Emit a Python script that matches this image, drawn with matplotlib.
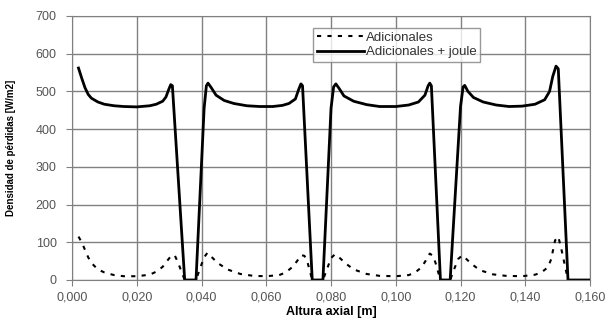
import matplotlib
matplotlib.use("Agg")
from matplotlib import pyplot as plt

# solid curve: Adicionales + joule
x_joule = [0.002, 0.003, 0.004, 0.005, 0.006, 0.008, 0.010, 0.013, 0.016, 0.020,
           0.024, 0.026, 0.028, 0.029, 0.030, 0.0305, 0.031, 0.0348, 0.0383,
           0.0408, 0.0415, 0.0420, 0.0430, 0.0445, 0.047, 0.050, 0.054, 0.058,
           0.062, 0.065, 0.067, 0.069, 0.070, 0.0707, 0.0712, 0.0742, 0.0775,
           0.0800, 0.0808, 0.0815, 0.0825, 0.084, 0.087, 0.091, 0.095, 0.100,
           0.104, 0.107, 0.109, 0.1100, 0.1105, 0.1110, 0.1138, 0.1168,
           0.1200, 0.1208, 0.1213, 0.1223, 0.124, 0.127, 0.131, 0.135, 0.139,
           0.143, 0.146, 0.1475, 0.1485, 0.1495, 0.1502, 0.1532, 0.160]
y_joule = [562, 535, 510, 492, 482, 472, 466, 462, 460, 459,
           462, 466, 474, 485, 508, 518, 515, 0, 0,
           455, 515, 522, 510, 490, 476, 468, 462, 460,
           460, 463, 468, 480, 505, 520, 515, 0, 0,
           455, 512, 520, 508, 488, 474, 465, 460, 460,
           464, 472, 490, 515, 522, 515, 0, 0,
           460, 512, 516, 500, 484, 472, 464, 460, 461,
           466, 478, 500, 540, 567, 560, 0, 0]

# dashed curve: Adicionales
x_adic = [0.002, 0.003, 0.004, 0.005, 0.006, 0.008, 0.010, 0.013, 0.016, 0.020,
          0.024, 0.026, 0.028, 0.0295, 0.0308, 0.0318, 0.0328, 0.0348, 0.0383,
          0.0395, 0.0408, 0.0418, 0.043, 0.045, 0.048, 0.052, 0.056, 0.060,
          0.064, 0.066, 0.068, 0.0695, 0.0708, 0.0718, 0.0728, 0.0742, 0.0775,
          0.0788, 0.0800, 0.0812, 0.0825, 0.0845, 0.087, 0.091, 0.095, 0.100,
          0.104, 0.106, 0.108, 0.1093, 0.1105, 0.1115, 0.1123, 0.1138, 0.1168,
          0.1180, 0.1193, 0.1205, 0.1215, 0.1235, 0.126, 0.130, 0.134, 0.139,
          0.143, 0.145, 0.147, 0.148, 0.1492, 0.1502, 0.1512, 0.1532]
y_adic = [115, 100, 80, 60, 45, 28, 20, 13, 10, 10,
          14, 22, 35, 52, 66, 64, 45, 0, 0,
          30, 60, 72, 62, 45, 28, 16, 11, 10,
          13, 20, 34, 50, 66, 64, 45, 0, 0,
          30, 58, 68, 60, 44, 28, 16, 11, 10,
          13, 20, 34, 52, 70, 64, 45, 0, 0,
          28, 56, 65, 58, 42, 26, 15, 11, 10,
          14, 20, 34, 55, 105, 115, 80, 0]

x_ticks = [0.0, 0.02, 0.04, 0.06, 0.08, 0.10, 0.12, 0.14, 0.16]
x_labels = ["0,000", "0,020", "0,040", "0,060", "0,080", "0,100", "0,120", "0,140", "0,160"]
y_ticks = [0, 100, 200, 300, 400, 500, 600, 700]

plt.rcParams['font.family'] = ['Liberation Sans', 'DejaVu Sans']

fig = plt.figure(figsize=(6.13, 3.20), dpi=100)
ax = fig.add_axes([0.1175, 0.125, 0.845, 0.825])

ax.plot(x_adic, y_adic, color="black", lw=1.5, ls=(0, (2, 3)), label="Adicionales")
ax.plot(x_joule, y_joule, color="black", lw=2.0, label="Adicionales + joule")

ax.set_xlim(0, 0.16)
ax.set_ylim(0, 700)
ax.set_xticks(x_ticks)
ax.set_xticklabels(x_labels)
ax.set_yticks(y_ticks)
ax.grid(True, color="#808080", lw=1.0)
ax.set_axisbelow(True)
for sp in ax.spines.values():
    sp.set_color("#808080")
ax.tick_params(axis="both", colors="#808080", labelcolor="#555555",
               labelsize=9, length=4)
ax.tick_params(axis="y", pad=7)
ax.tick_params(axis="x", pad=4)

ax.set_xlabel("Altura axial [m]", fontsize=9, fontweight="bold")
ax.xaxis.set_label_coords(0.5, -0.1)
ax.set_ylabel("Densidad de pérdidas [W/m2]", fontsize=7, fontweight="bold")
ax.yaxis.set_label_coords(-0.108, 0.5)

leg = ax.legend(loc="upper left", bbox_to_anchor=(0.465, 0.955), fontsize=9.5,
                frameon=True, fancybox=False, handlelength=3.6,
                handletextpad=0.1, borderpad=0.3, labelspacing=0.15,
                borderaxespad=0)
leg.get_frame().set_edgecolor("#808080")
leg.get_frame().set_linewidth(1.0)
for t in leg.get_texts():
    t.set_color("#333333")

fig.savefig("out.png", dpi=100)
plt.close("all")
